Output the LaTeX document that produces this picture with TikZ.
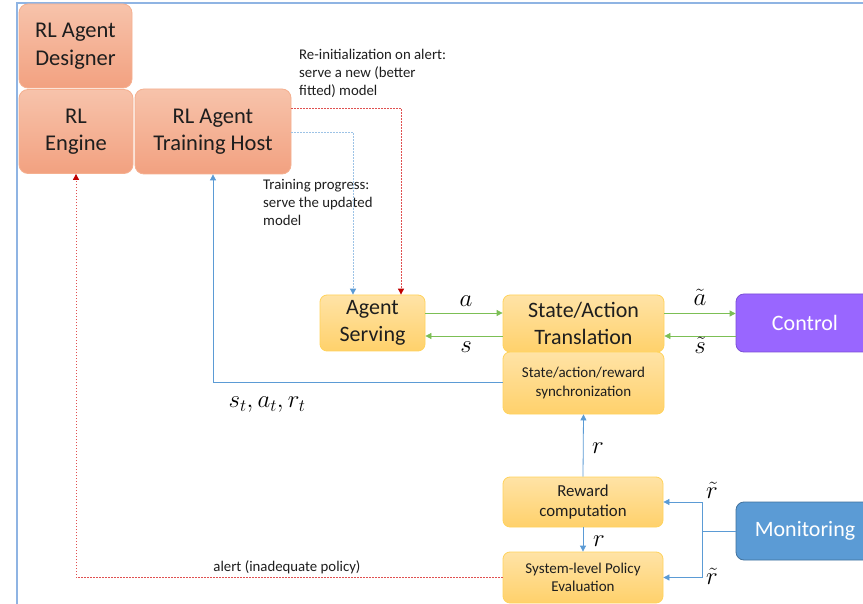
\documentclass[tikz,border=0pt]{standalone}
\usepackage{fontspec}
\setmainfont{Carlito}
\usetikzlibrary{arrows.meta,calc}
\definecolor{frameblue}{HTML}{8FB4E3}
\definecolor{otop}{HTML}{F7C3AB}
\definecolor{obot}{HTML}{F2A180}
\definecolor{oline}{HTML}{F5B090}
\definecolor{ytop}{HTML}{FFE3A6}
\definecolor{ybot}{HTML}{FFD16B}
\definecolor{yline}{HTML}{FFD35C}
\definecolor{ctrlfill}{HTML}{9966FF}
\definecolor{ctrlline}{HTML}{7A4FD6}
\definecolor{monfill}{HTML}{5B9BD5}
\definecolor{monline}{HTML}{41719C}
\definecolor{agreen}{HTML}{7CBF55}
\definecolor{ablue}{HTML}{5B9BD5}
\definecolor{lblue}{HTML}{9DC3E6}
\definecolor{ared}{HTML}{E05050}
\definecolor{dred}{HTML}{C00000}
\definecolor{txt}{HTML}{1E1E1E}
\begin{document}
\begin{tikzpicture}[x=1pt,y=-1pt,
  obox/.style={draw=oline, line width=0.8pt, rounded corners=9pt, top color=otop, bottom color=obot,
    align=center, text=txt, inner sep=2pt, font=\fontsize{22.5}{27.5}\selectfont},
  ybox/.style={draw=yline, line width=0.8pt, rounded corners=7pt, top color=ytop, bottom color=ybot,
    align=center, text=txt, inner sep=2pt},
  bigtxt/.style={font=\fontsize{22}{26.5}\selectfont},
  smalltxt/.style={font=\fontsize{15}{18.3}\selectfont},
  note/.style={align=left, text=txt, inner sep=0pt, font=\fontsize{14.8}{18}\selectfont, anchor=north west},
  mlbl/.style={inner sep=0pt, text=black, font=\fontsize{23}{27}\selectfont},
  tip/.style={-{Triangle[length=6pt,width=6pt]}},
  garr/.style={tip, draw=agreen, line width=0.8pt},
  barr/.style={tip, draw=ablue, line width=0.8pt},
  bdot/.style={draw=lblue, line width=0.9pt, dash pattern=on 1.5pt off 1.5pt, -{Triangle[length=6pt,width=6pt,color=ablue,fill=ablue]}},
  rdot/.style={draw=ared, line width=0.9pt, dash pattern=on 1.5pt off 1.5pt, -{Triangle[length=6pt,width=6pt,color=dred,fill=dred]}},
]
\clip (0,0) rectangle (863,604);
\fill[white] (0,0) rectangle (863,604);
\draw[frameblue, line width=1.5pt] (17,610) -- (17,3) -- (870,3);

% orange boxes
\node[obox, minimum width=113pt, minimum height=84pt] (des) at (75.5,46) {RL Agent\\Designer};
\node[obox, minimum width=114pt, minimum height=84pt] (eng) at (76,131.5) {RL\\Engine};
\node[obox, minimum width=156pt, minimum height=85pt] (host) at (213,131.5) {RL Agent\\Training Host};

% yellow boxes
\node[ybox, bigtxt, minimum width=105pt, minimum height=56pt] (serv) at (372.5,323) {Agent\\Serving};
\node[ybox, bigtxt, minimum width=161pt, minimum height=57pt] (trans) at (583.5,323.5) {State/Action\\Translation};
\node[ybox, smalltxt, minimum width=161pt, minimum height=62pt] (sync) at (583.5,383) {State/action/reward\\synchronization};
\node[ybox, font=\fontsize{16.8}{20.6}\selectfont, minimum width=160pt, minimum height=50pt] (rew) at (583,502) {Reward\\computation};
\node[ybox, smalltxt, minimum width=160pt, minimum height=51pt] (eval) at (583,577.5) {System-level Policy\\Evaluation};

% control and monitoring
\node[draw=ctrlline, line width=0.8pt, fill=ctrlfill, rounded corners=8pt, text=white, bigtxt,
  minimum width=138pt, minimum height=58pt] (ctrl) at (805,323) {Control};
\node[draw=monline, line width=0.8pt, fill=monfill, rounded corners=8pt, text=white, bigtxt,
  minimum width=138pt, minimum height=58pt] (mon) at (805,531) {Monitoring};

% annotations
\node[note] (n1) at (299,49) {Re-initialization on alert:\\serve a new (better\\fitted) model};
\node[note] (n2) at (263,179) {Training progress:\\serve the updated\\model};
\node[text=txt, inner sep=0pt, font=\fontsize{14.8}{18}\selectfont] (n3) at (287,567) {alert (inadequate policy)};

% dotted feedback connectors
\draw[rdot] ([yshift=23.5pt]host.east) -| ([xshift=28.5pt]serv.north);
\draw[bdot] ([yshift=-0.5pt]host.east) -| ([xshift=-19.5pt]serv.north);
\draw[rdot] (eval.west) -| (eng.south);
\draw[barr] ([yshift=1pt]sync.west) -| (host.south);

% green action/state connectors
\draw[garr] ([yshift=10pt]serv.east) -- ([yshift=10pt]serv.east -| trans.west);
\draw[garr] ([yshift=-12.5pt]trans.west) -- ([yshift=-12.5pt]trans.west -| serv.east);
\draw[garr] ([yshift=10pt]trans.east) -- ([yshift=10pt]trans.east -| ctrl.west);
\draw[garr] ([yshift=-13pt]ctrl.west) -- ([yshift=-13pt]ctrl.west -| trans.east);

% reward connectors
\draw[barr] (rew.north) -- (sync.south);
\draw[barr] (rew.south) -- (eval.north);
\coordinate (J) at (702,531);
\draw[ablue, line width=0.8pt] (mon.west) -- (J);
\draw[barr] (J) |- (rew.east);
\draw[barr] (J) |- (eval.east);

% math labels
\node[mlbl] (la) at (466,301) {$a$};
\node[mlbl] (ls) at (466,347) {$s$};
\node[mlbl] (lat) at (700,297) {$\tilde{a}$};
\node[mlbl] (lst) at (700,345) {$\tilde{s}$};
\node[mlbl] (lsar) at (267,405) {$s_t, a_t, r_t$};
\node[mlbl] (lr1) at (598,448) {$r$};
\node[mlbl] (lr2) at (599,541) {$r$};
\node[mlbl] (lrt1) at (712,490) {$\tilde{r}$};
\node[mlbl] (lrt2) at (712,576) {$\tilde{r}$};
\end{tikzpicture}
\end{document}
